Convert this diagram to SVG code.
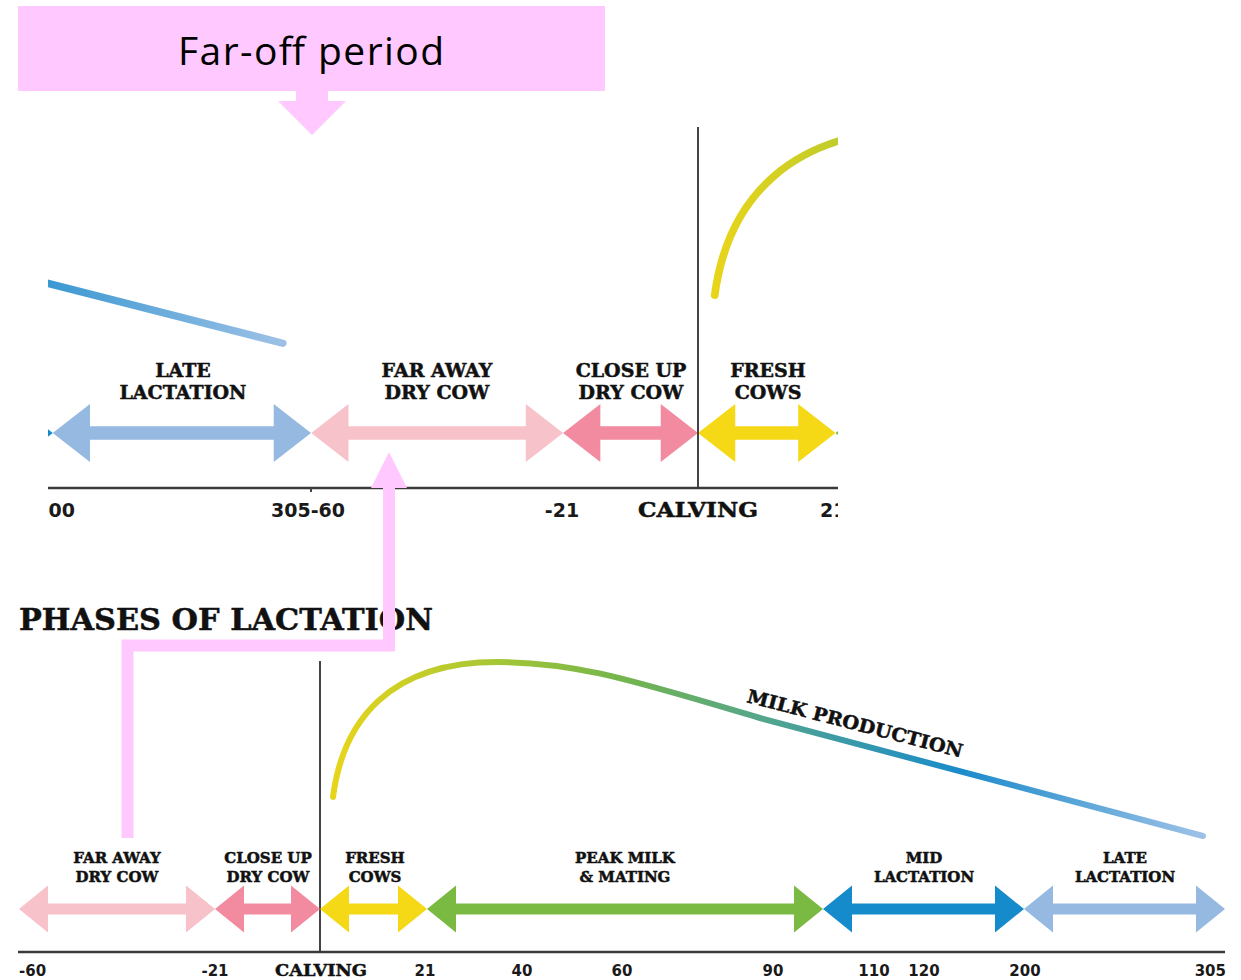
<svg xmlns="http://www.w3.org/2000/svg" xmlns:xlink="http://www.w3.org/1999/xlink" width="1241" height="980" viewBox="0 0 1241 980">
  <style>
    .lbl { font-family: "DejaVu Serif", "Liberation Serif", serif; font-weight: bold; text-anchor: middle; fill: #111; stroke: #111; stroke-width: 0.5; }
    .start { text-anchor: start; }
    .ls { font-size: 15px; }
    .lt { font-size: 19px; }
    .num { font-family: "DejaVu Sans", "Liberation Sans", sans-serif; font-weight: bold; fill: #1a1a1a; }
    .ns { font-size: 15px; }
    .nt { font-size: 19px; }
    .axis { stroke: #3a3a3a; stroke-width: 2.5; fill: none; }
    .vline { stroke: #444; stroke-width: 2; fill: none; }
    .conn { fill: #ffc9ff; }
    .connline { stroke: #ffc9ff; stroke-width: 12; fill: none; stroke-linejoin: miter; }
    .curve { stroke: url(#milkGrad); stroke-width: 6; fill: none; stroke-linecap: round; }
  </style>
  <defs>
    <linearGradient id="milkGrad" gradientUnits="userSpaceOnUse" x1="333" y1="0" x2="1203" y2="0">
      <stop offset="0" stop-color="#e8d51a"/>
      <stop offset="0.19" stop-color="#a4c636"/>
      <stop offset="0.33" stop-color="#74b54c"/>
      <stop offset="0.49" stop-color="#55a68a"/>
      <stop offset="0.6" stop-color="#3798ab"/>
      <stop offset="0.72" stop-color="#1b8bcb"/>
      <stop offset="1" stop-color="#9dc1e6"/>
    </linearGradient>
    <path id="milkCurve" d="M333,797 C343,720 390,662 497,662 C580,662 640,683 760,718 L1203,836"/>
    <path id="arrFar" fill="#f7c2ca" d="M19 909 L48 885.5 V903.5 H186 V885.5 L215 909 L186 932.5 V914.5 H48 V932.5 Z"/>
    <path id="arrClose" fill="#f38ba0" d="M215 909 L244 885.5 V903.5 H291 V885.5 L320 909 L291 932.5 V914.5 H244 V932.5 Z"/>
    <path id="arrFresh" fill="#f5d816" d="M320 909 L349 885.5 V903.5 H398 V885.5 L427 909 L398 932.5 V914.5 H349 V932.5 Z"/>
    <path id="arrPeak" fill="#7bba42" d="M427 909 L456 885.5 V903.5 H794 V885.5 L823 909 L794 932.5 V914.5 H456 V932.5 Z"/>
    <path id="arrMid" fill="#168bcb" d="M823 909 L852 885.5 V903.5 H995 V885.5 L1024 909 L995 932.5 V914.5 H852 V932.5 Z"/>
    <path id="arrLate" fill="#95b9e1" d="M1024 909 L1053 885.5 V903.5 H1196 V885.5 L1225 909 L1196 932.5 V914.5 H1053 V932.5 Z"/>
    <clipPath id="topClip">
      <rect x="48" y="100" width="790" height="430"/>
    </clipPath>
  </defs>

  <rect x="0" y="0" width="1241" height="980" fill="#ffffff"/>

  <!-- Far-off period box -->
  <g id="far-off-period">
    <rect x="18" y="6" width="587" height="85" fill="#ffc9ff"/>
    <text x="311" y="65" font-family="'Open Sans', 'Noto Sans', sans-serif" font-size="39" text-anchor="middle" fill="#000" textLength="266">Far-off period</text>
    <polygon class="conn" points="296,91 328,91 328,101 346,101 312,135 278,101 296,101"/>
  </g>

  <!-- Upper (zoomed) chart -->
  <g id="upper-chart" clip-path="url(#topClip)">
    <g id="upper-prev-cycle" transform="translate(311,433) scale(1.285,1.23) translate(-1225,-909)">
      <use xlink:href="#milkCurve" class="curve"/>
      <use xlink:href="#arrMid"/>
      <use xlink:href="#arrLate"/>
    </g>
    <g id="upper-cycle" transform="translate(698,433) scale(1.285,1.23) translate(-320,-909)">
      <use xlink:href="#milkCurve" class="curve"/>
      <use xlink:href="#arrFar"/>
      <use xlink:href="#arrClose"/>
      <use xlink:href="#arrFresh"/>
      <use xlink:href="#arrPeak"/>
    </g>
    <line class="vline" x1="698" y1="127" x2="698" y2="488"/>
    <line class="axis" x1="48" y1="488" x2="838" y2="488"/>
    <line class="vline" x1="311" y1="488" x2="311" y2="492" stroke-width="1"/>
    <g id="upper-late-lactation">
      <text class="lbl lt" x="183" y="377">LATE</text>
      <text class="lbl lt" x="183" y="399">LACTATION</text>
    </g>
    <g id="upper-far-away">
      <text class="lbl lt" x="437" y="377">FAR AWAY</text>
      <text class="lbl lt" x="437" y="399">DRY COW</text>
    </g>
    <g id="upper-close-up">
      <text class="lbl lt" x="631" y="377">CLOSE UP</text>
      <text class="lbl lt" x="631" y="399">DRY COW</text>
    </g>
    <g id="upper-fresh">
      <text class="lbl lt" x="768" y="377">FRESH</text>
      <text class="lbl lt" x="768" y="399">COWS</text>
    </g>
    <text class="num nt" x="75" y="517" text-anchor="end">200</text>
    <text class="num nt" x="308" y="517" text-anchor="middle">305-60</text>
    <text class="num nt" x="562" y="517" text-anchor="middle">-21</text>
    <text class="lbl" x="698" y="517" font-size="21" textLength="120" lengthAdjust="spacingAndGlyphs">CALVING</text>
    <text class="num nt" x="820" y="517">21</text>
  </g>

  <!-- Lower chart -->
  <text id="title" class="lbl start" x="19" y="630" font-size="30" textLength="414" lengthAdjust="spacingAndGlyphs">PHASES OF LACTATION</text>

  <g id="milk-production">
    <use xlink:href="#milkCurve" class="curve"/>
    <text class="lbl start" x="746" y="702" font-size="18.5" textLength="222" lengthAdjust="spacingAndGlyphs" transform="rotate(14.5 746 702)">MILK PRODUCTION</text>
  </g>

  <line class="vline" x1="320" y1="661" x2="320" y2="952"/>
  <line class="axis" x1="18" y1="952" x2="1225" y2="952"/>

  <g id="phase-far-away">
    <use xlink:href="#arrFar"/>
    <text class="lbl ls" x="117" y="863">FAR AWAY</text>
    <text class="lbl ls" x="117" y="882">DRY COW</text>
  </g>
  <g id="phase-close-up">
    <use xlink:href="#arrClose"/>
    <text class="lbl ls" x="268" y="863">CLOSE UP</text>
    <text class="lbl ls" x="268" y="882">DRY COW</text>
  </g>
  <g id="phase-fresh">
    <use xlink:href="#arrFresh"/>
    <text class="lbl ls" x="375" y="863">FRESH</text>
    <text class="lbl ls" x="375" y="882">COWS</text>
  </g>
  <g id="phase-peak">
    <use xlink:href="#arrPeak"/>
    <text class="lbl ls" x="625" y="863">PEAK MILK</text>
    <text class="lbl ls" x="625" y="882">&amp; MATING</text>
  </g>
  <g id="phase-mid">
    <use xlink:href="#arrMid"/>
    <text class="lbl ls" x="924" y="863">MID</text>
    <text class="lbl ls" x="924" y="882">LACTATION</text>
  </g>
  <g id="phase-late">
    <use xlink:href="#arrLate"/>
    <text class="lbl ls" x="1125" y="863">LATE</text>
    <text class="lbl ls" x="1125" y="882">LACTATION</text>
  </g>

  <g id="axis-labels">
    <text class="num ns" x="19" y="976">-60</text>
    <text class="num ns" x="215" y="976" text-anchor="middle">-21</text>
    <text class="lbl" x="321" y="976" font-size="17" textLength="92" lengthAdjust="spacingAndGlyphs">CALVING</text>
    <text class="num ns" x="425" y="976" text-anchor="middle">21</text>
    <text class="num ns" x="522" y="976" text-anchor="middle">40</text>
    <text class="num ns" x="622" y="976" text-anchor="middle">60</text>
    <text class="num ns" x="773" y="976" text-anchor="middle">90</text>
    <text class="num ns" x="874" y="976" text-anchor="middle">110</text>
    <text class="num ns" x="924" y="976" text-anchor="middle">120</text>
    <text class="num ns" x="1025" y="976" text-anchor="middle">200</text>
    <text class="num ns" x="1226" y="976" text-anchor="end">305</text>
  </g>

  <!-- Connector -->
  <g id="connectors">
    <polyline class="connline" points="389,486 389,645.5 127.5,645.5 127.5,838"/>
    <polygon class="conn" points="389,452 407,488 371,488"/>
  </g>
</svg>
